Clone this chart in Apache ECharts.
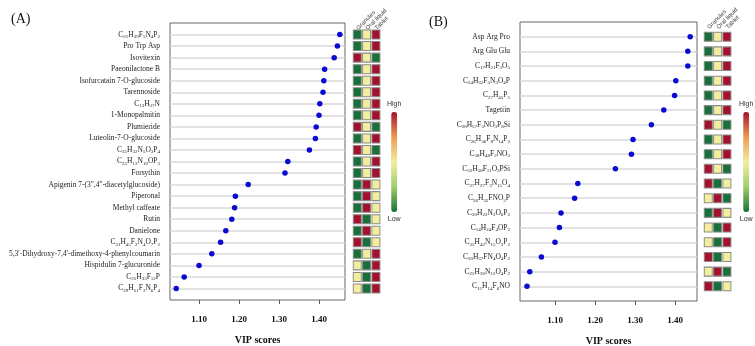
<!DOCTYPE html>
<html>
<head>
<meta charset="utf-8">
<script src="https://cdn.jsdelivr.net/npm/echarts@6/dist/echarts.min.js"></script>
<style>
  html, body { margin: 0; padding: 0; background: #fff; }
  #main { width: 755px; height: 346px; }
</style>
</head>
<body>
<div id="main"></div>
<script>
// panel A: compounds, VIP scores, and level per formulation (0 low, 1 mid, 2 high)
var aNames = ['C21H39F5N4P2', 'Pro Trp Asp', 'Isovitexin', 'Paeonilactone B',
  'Isofurcatain 7-O-glucoside', 'Tarennoside', 'C13H37N', '1-Monopalmitin', 'Plumieride',
  'Luteolin-7-O-glucoside', 'C35H32N5O3P4', 'C25H13N10OP3', 'Forsythin',
  'Apigenin 7-(3",4"-diacetylglucoside)', 'Piperonal', 'Methyl caffeate', 'Rutin',
  'Danielone', 'C31H45F2N4O7P2', "5,3'-Dihydroxy-7,4'-dimethoxy-4-phenylcoumarin",
  'Hispidulin 7-glucuronide', 'C25H33F12P', 'C29H51F3N6P4'];
var aVip = [1.452, 1.446, 1.438, 1.414, 1.412, 1.410, 1.402, 1.400, 1.393, 1.391, 1.376,
  1.322, 1.315, 1.223, 1.191, 1.189, 1.182, 1.167, 1.154, 1.132, 1.100, 1.063, 1.043];
var aLevels = [[0,1,2],[0,1,2],[2,1,0],[0,1,2],[0,1,2],[0,1,2],[0,1,2],[0,1,2],[2,1,0],
  [0,1,2],[2,1,0],[0,1,2],[0,1,2],[0,2,1],[0,2,1],[0,2,1],[2,0,1],[0,2,1],[2,0,1],
  [0,1,2],[1,0,2],[1,0,2],[1,0,2]];

// panel B
var bNames = ['Asp Arg Pro', 'Arg Glu Glu', 'C17H21F3O5', 'C24H32F5N3O4P', 'C27H45P5',
  'Tagetiin', 'C28H57F3NO3P8Si', 'C26H36F8N14P2', 'C38H48F2NO2', 'C32H58F11O3PSi',
  'C27H27F3N15O4', 'C26H32FNO3P', 'C20H22N2O6P2', 'C14H24F4OP2', 'C35H42N15O3P2',
  'C30H37FN4O4P2', 'C25H30N12O4P2', 'C15H14F6NO'];
var bVip = [1.438, 1.432, 1.432, 1.402, 1.399, 1.372, 1.341, 1.295, 1.291, 1.251,
  1.157, 1.149, 1.115, 1.111, 1.100, 1.066, 1.037, 1.030];
var bLevels = [[0,1,2],[0,1,2],[0,1,2],[0,1,2],[0,1,2],[0,1,2],[2,1,0],[0,1,2],[0,1,2],
  [2,1,0],[2,0,1],[1,2,0],[0,2,1],[1,0,2],[1,0,2],[2,0,1],[1,2,0],[2,0,1]];

var forms = ['Granules', 'Oral liquid', 'Tablet'];
var xTicks = [1.1, 1.2, 1.3, 1.4];

var serif = 'Liberation Serif';
var heatColors = ['#17703a', '#9fcf6a', '#f2ee9e', '#ee9a4e', '#a5112d'];

// one empty row above and below so the dots sit one step in from the frame
function padded(names) { return [' '].concat(names, ['  ']); }

function fmtName(name) {
  if (/^([A-Z][a-z]?\d*)+$/.test(name)) {
    return name.replace(/(\d+)/g, '{s|$1}');
  }
  return name;
}

function dots(vals) {
  return vals.map(function(v, i) { return [v, i + 1]; });
}
function cells(levels) {
  var out = [];
  levels.forEach(function(row, i) {
    row.forEach(function(lv, j) { out.push([j, i + 1, lv]); });
  });
  return out;
}

function plotX(idx, min, max) {
  return {
    gridIndex: idx, type: 'value', min: min, max: max,
    name: 'VIP scores', nameLocation: 'middle', nameGap: 35,
    nameTextStyle: { fontFamily: serif, fontWeight: 'bold', fontSize: 10, color: '#111' },
    axisLine: { show: false },
    axisTick: { show: true, length: 4, customValues: xTicks, lineStyle: { color: '#555' } },
    axisLabel: { customValues: xTicks, margin: 15, fontFamily: serif, fontWeight: 'bold',
      fontSize: 9, color: '#111', formatter: function(v) { return v.toFixed(2); } },
    splitLine: { show: false }
  };
}
function plotY(idx, names) {
  var n = names.length + 2;
  return {
    gridIndex: idx, type: 'category', data: padded(names), boundaryGap: false, inverse: true,
    axisLine: { show: false }, axisTick: { show: false },
    axisLabel: { interval: 0, margin: 10, fontFamily: serif, fontSize: 7.5, color: '#222',
      formatter: fmtName,
      rich: { s: { fontFamily: serif, fontSize: 5, color: '#222', padding: [4, 0, 0, 0] } } },
    splitLine: { show: true, interval: function(i) { return i > 0 && i < n - 1; },
      lineStyle: { color: '#d9d9d9', width: 1.5 } }
  };
}
function heatX(idx) {
  return {
    gridIndex: idx, type: 'category', data: forms, position: 'top',
    axisLine: { show: false }, axisTick: { show: false },
    axisLabel: { interval: 0, rotate: -45, margin: -6, align: 'left', verticalAlign: 'middle',
      fontSize: 6, color: '#444', fontFamily: 'Liberation Sans' },
    splitLine: { show: false }
  };
}
function heatY(idx, names) {
  return { gridIndex: idx, type: 'category', data: padded(names), boundaryGap: false,
    inverse: true, show: false };
}
function vmap(series, left) {
  return {
    type: 'continuous', seriesIndex: series, dimension: 2, min: 0, max: 2,
    calculable: false, left: left, top: 86, itemWidth: 6, itemHeight: 100,
    text: ['High', 'Low'], textGap: 4,
    textStyle: { fontSize: 7, color: '#333', fontFamily: 'Liberation Sans' },
    inRange: { color: heatColors }
  };
}
function heatSeries(idx, levels) {
  return { type: 'scatter', xAxisIndex: idx, yAxisIndex: idx, data: cells(levels),
    symbol: 'rect', symbolSize: [8, 9],
    itemStyle: { opacity: 1, borderColor: '#8a8a8a', borderWidth: 1 } };
}
function grid(left, top, width, height, framed) {
  return { left: left, top: top, width: width, height: height, outerBoundsMode: 'none',
    show: framed, borderColor: '#666', borderWidth: 1 };
}

var chart = echarts.init(document.getElementById('main'));
chart.setOption({
  animation: false,
  title: [
    { text: '(A)', left: 6, top: 7, textStyle: { fontFamily: serif, fontSize: 14, fontWeight: 'normal', color: '#111' } },
    { text: '(B)', left: 424, top: 10, textStyle: { fontFamily: serif, fontSize: 14, fontWeight: 'normal', color: '#111' } }
  ],
  grid: [
    grid(170, 23, 175, 277, true),
    grid(352.6, 23, 28, 277, false),
    grid(520, 22, 177, 279, true),
    grid(703.6, 22, 28, 279, false)
  ],
  xAxis: [plotX(0, 1.0275, 1.465), heatX(1), plotX(2, 1.0125, 1.455), heatX(3)],
  yAxis: [plotY(0, aNames), heatY(1, aNames), plotY(2, bNames), heatY(3, bNames)],
  visualMap: [vmap(1, 372), vmap(3, 724)],
  series: [
    { type: 'scatter', xAxisIndex: 0, yAxisIndex: 0, data: dots(aVip), symbolSize: 5.5,
      itemStyle: { color: '#0a0ad2', opacity: 1 } },
    heatSeries(1, aLevels),
    { type: 'scatter', xAxisIndex: 2, yAxisIndex: 2, data: dots(bVip), symbolSize: 5.5,
      itemStyle: { color: '#0a0ad2', opacity: 1 } },
    heatSeries(3, bLevels)
  ]
});
</script>
</body>
</html>
